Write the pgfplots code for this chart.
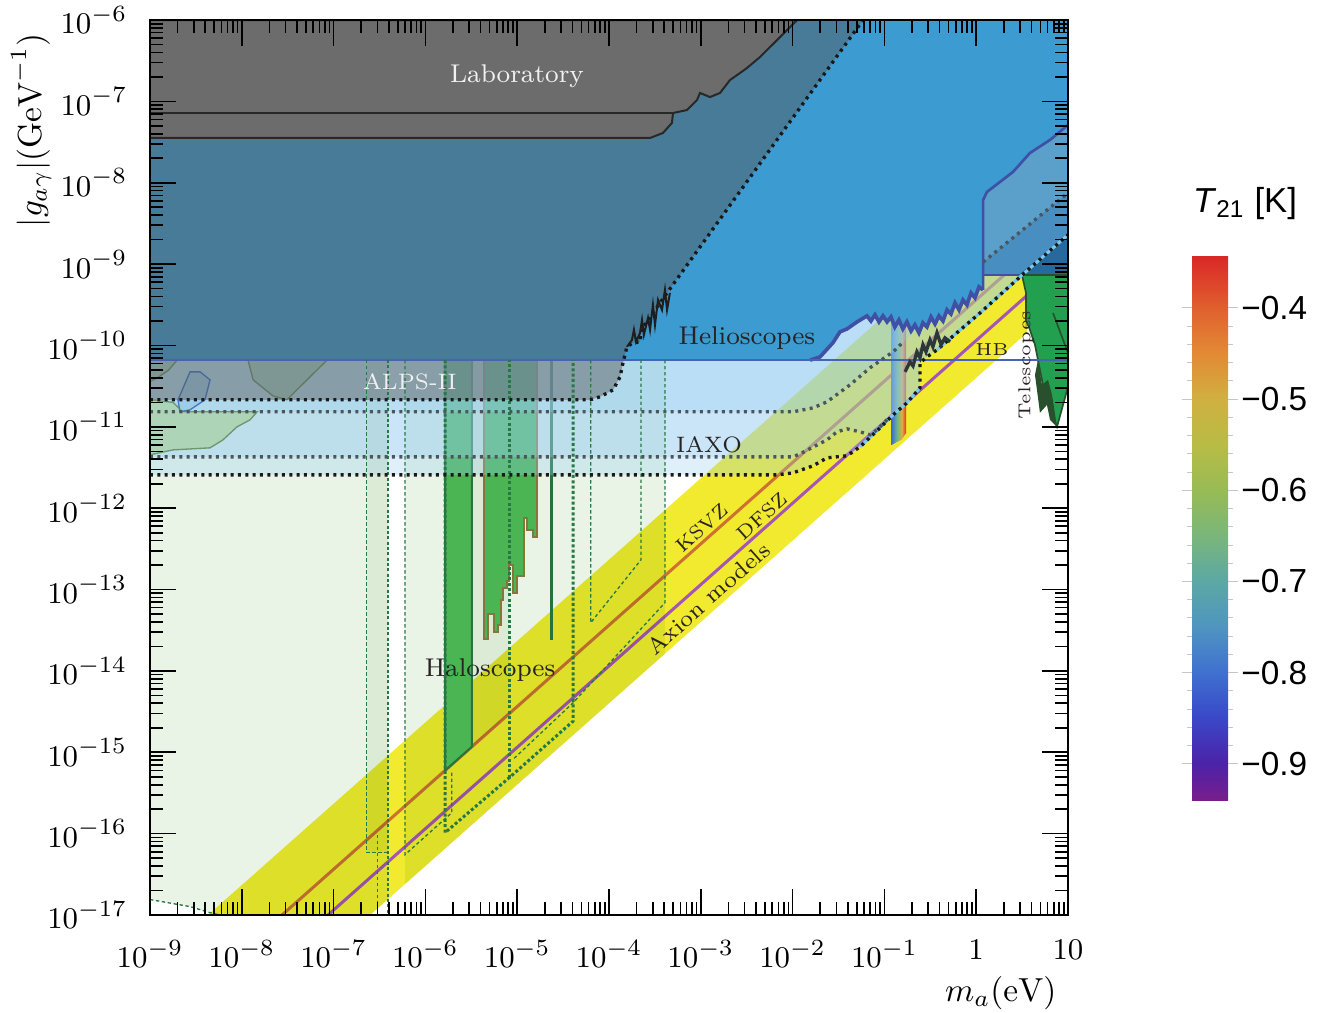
\documentclass[border=0pt]{standalone}
\usepackage{fontspec}
\usepackage{pgfplots}
\pgfplotsset{compat=1.18}
\newfontfamily\arial{Liberation Sans}

\definecolor{yband}{RGB}{242,234,46}
\definecolor{ksvz}{RGB}{205,112,50}
\definecolor{dfsz}{RGB}{165,85,180}
\definecolor{lgreen}{RGB}{233,244,231}
\definecolor{lgreen2}{RGB}{240,246,237}
\definecolor{bargreen}{RGB}{75,181,84}
\definecolor{bardark}{RGB}{40,115,60}
\definecolor{barolive}{RGB}{135,118,60}
\definecolor{iaxo}{RGB}{150,205,240}
\definecolor{iaxoline}{RGB}{120,200,240}
\definecolor{helio}{RGB}{60,155,208}
\definecolor{helioedge}{RGB}{64,80,165}
\definecolor{hbline}{RGB}{70,100,180}
\definecolor{rone}{RGB}{90,160,203}
\definecolor{rtwo}{RGB}{72,142,192}
\definecolor{rthree}{RGB}{38,105,156}
\definecolor{labgray}{RGB}{108,108,108}
\definecolor{labedge}{RGB}{40,40,40}
\definecolor{alpsgray}{RGB}{85,85,85}
\definecolor{telgreen}{RGB}{34,160,80}
\definecolor{teldark}{RGB}{40,80,45}
\definecolor{halo}{RGB}{40,120,70}
\definecolor{dotgray}{RGB}{75,85,92}
\definecolor{dotblack}{RGB}{25,25,25}
\definecolor{jag}{RGB}{30,30,30}
\definecolor{jagtwo}{RGB}{45,55,55}
\definecolor{txt}{RGB}{40,35,35}
\definecolor{wtxt}{RGB}{240,240,240}
\definecolor{blobg}{RGB}{170,210,170}
\definecolor{blobu}{RGB}{140,190,150}
\definecolor{blobedge}{RGB}{110,150,110}
\definecolor{blobb}{RGB}{150,200,230}
\definecolor{blobbedge}{RGB}{70,120,200}
\definecolor{sA}{RGB}{63,112,208}
\definecolor{sB}{RGB}{110,180,140}
\definecolor{sC}{RGB}{220,175,60}
\definecolor{sD}{RGB}{225,45,40}

\newcommand\lab{\fontsize{7.7}{9}\selectfont}
\newcommand\labs{\fontsize{6.7}{8}\selectfont}
\newcommand\labt{\fontsize{5.2}{6}\selectfont}

\pgfplotsset{
  dotB/.style={draw=dotblack, line width=1pt, dash pattern=on 0.9pt off 1.3pt},
  dotG/.style={draw=dotgray, line width=1pt, dash pattern=on 0.9pt off 1.3pt},
  halothin/.style={draw=halo, line width=0.4pt, dash pattern=on 1pt off 0.8pt},
  halothick/.style={draw=halo, line width=0.9pt, dash pattern=on 0.9pt off 0.7pt},
  colorbar shift/.style={xshift=37.2pt, yshift=34.5pt},
}

\begin{document}
\begin{tikzpicture}
\useasboundingbox (-45pt,-29.1pt) rectangle (353.7pt,274.5pt);
\begin{axis}[
  name=main,
  xmode=log, ymode=log,
  scale only axis, width=275.4pt, height=268.5pt,
  xmin=1e-9, xmax=10, ymin=1e-17, ymax=1e-6,
  xtick={1e-9,1e-8,1e-7,1e-6,1e-5,1e-4,1e-3,1e-2,1e-1,1,10},
  xticklabels={$10^{-9}$,$10^{-8}$,$10^{-7}$,$10^{-6}$,$10^{-5}$,$10^{-4}$,$10^{-3}$,$10^{-2}$,$10^{-1}$,$1$,$10$},
  ytick={1e-17,1e-16,1e-15,1e-14,1e-13,1e-12,1e-11,1e-10,1e-9,1e-8,1e-7,1e-6},
  major tick length=7.8pt, minor tick length=4pt,
  every tick/.style={black, line width=0.5pt},
  axis line style={line width=0.7pt},
  tick label style={font=\fontsize{9.3}{11}\selectfont},
  xticklabel style={yshift=-4pt},
  yticklabel style={xshift=-3.3pt},
  xlabel={$m_a(\mathrm{eV})$},
  xlabel style={at={(axis description cs:1,0)}, anchor=north east, yshift=-15pt, xshift=0pt},
  ylabel={$|g_{a\gamma}|(\mathrm{GeV}^{-1})$},
  ylabel style={at={(axis description cs:-0.164,0.998)}, anchor=north east},
  axis on top,
  colorbar,
  colormap={t21}{rgb255(0pt)=(120,30,140) rgb255(40pt)=(76,34,168) rgb255(90pt)=(58,72,200)
    rgb255(140pt)=(63,112,208) rgb255(190pt)=(79,149,192) rgb255(240pt)=(91,168,165)
    rgb255(290pt)=(122,182,122) rgb255(340pt)=(152,187,85) rgb255(390pt)=(184,188,69)
    rgb255(440pt)=(208,176,64) rgb255(490pt)=(227,138,53) rgb255(540pt)=(224,96,46)
    rgb255(598pt)=(217,38,38)},
  point meta min=-0.9396, point meta max=-0.342,
  colorbar style={
    at={(parent axis.south east)}, anchor=south west,
    scale only axis, width=10.8pt, height=163.5pt,
    ytick={-0.9,-0.8,-0.7,-0.6,-0.5,-0.4},
    yticklabels={−0.9,−0.8,−0.7,−0.6,−0.5,−0.4},
    minor y tick num=4,
    tick align=outside, major tick length=3pt, minor tick length=1.5pt,
    every tick/.style={gray!45, line width=0.3pt},
    axis line style={draw=none},
    yticklabel style={font=\arial\fontsize{10}{12}\selectfont, xshift=-2.5pt},
    title={\arial\fontsize{10.4}{12}\selectfont\textit{T}\textsubscript{21} [K]},
    title style={at={(0.5,1)}, anchor=south, yshift=1.2pt, xshift=10.5pt},
  },
]

% axion band and model lines
\addplot[fill=yband, draw=none] coordinates {(4.29e-9,1e-17) (3.57,8.32e-9) (3.57,1.43e-10) (2.5e-7,1e-17)} -- cycle;
\addplot[ksvz, line width=0.9pt] coordinates {(2.74e-8,1e-17) (3.57,1.30e-9)};
\addplot[dfsz, line width=0.9pt] coordinates {(8.69e-8,1e-17) (3.57,4.11e-10)};

% haloscope projections (light green)
\addplot[fill=lgreen, draw=none, blend mode=multiply] coordinates {(1e-9,1.55e-17) (2.73e-9,1.27e-17) (4.51e-9,1.07e-17) (5.79e-9,1e-17) (2.5e-7,1e-17) (3.95e-7,1.58e-17) (3.95e-7,1e-6) (1e-9,1e-6)} -- cycle;
\addplot[fill=lgreen, draw=none, blend mode=multiply] coordinates {(6.0e-7,2.4e-17) (4.07e-4,1.63e-14) (4.07e-4,1e-6) (6.0e-7,1e-6)} -- cycle;
\addplot[fill=lgreen2, draw=none, blend mode=multiply] coordinates {(2.30e-7,5.85e-17) (3.95e-7,5.85e-17) (3.95e-7,1e-6) (2.30e-7,1e-6)} -- cycle;
\addplot[fill=lgreen2, draw=none, blend mode=multiply] coordinates {(3.2e-6,1.17e-15) (8.2e-6,2.99e-15) (8.2e-6,1e-6) (3.2e-6,1e-6)} -- cycle;

% haloscope exclusions
\addplot[fill=bargreen, draw=bardark, line width=0.6pt] coordinates {(1.64e-6,6.6e-11) (3.20e-6,6.6e-11) (3.20e-6,1.17e-15) (1.64e-6,5.99e-16)} -- cycle;
\addplot[fill=bargreen, draw=barolive, line width=0.6pt] coordinates {
 (4.39e-6,6.6e-11) (4.39e-6,2.49e-14) (4.75e-6,2.49e-14) (4.75e-6,5.00e-14) (5.58e-6,5.00e-14)
 (5.58e-6,2.97e-14) (6.22e-6,2.97e-14) (6.22e-6,3.70e-14) (6.61e-6,3.70e-14) (6.61e-6,7.50e-14)
 (7.05e-6,7.50e-14) (7.05e-6,1.04e-13) (7.69e-6,1.04e-13) (7.69e-6,1.26e-13) (8.20e-6,1.26e-13)
 (8.20e-6,2.02e-13) (8.93e-6,2.02e-13) (8.93e-6,9.06e-14) (9.89e-6,9.06e-14) (9.89e-6,1.45e-13)
 (1.19e-5,1.45e-13) (1.19e-5,7.55e-13) (1.27e-5,7.55e-13) (1.27e-5,5.43e-13) (1.50e-5,5.43e-13)
 (1.50e-5,4.42e-13) (1.63e-5,4.42e-13) (1.63e-5,6.6e-11)} -- cycle;
\addplot[bardark, line width=0.9pt] coordinates {(2.38e-5,6.6e-11) (2.38e-5,2.42e-14)};

% 21 cm strip
\addplot[draw=none, left color=sA, right color=sB] coordinates {(0.120,6.0e-12) (0.120,2.06e-10) (0.137,2.06e-10) (0.137,6.5e-12)} -- cycle;
\addplot[draw=none, left color=sB, right color=sC] coordinates {(0.137,6.5e-12) (0.137,2.06e-10) (0.155,2.06e-10) (0.155,7.0e-12)} -- cycle;
\addplot[draw=none, left color=sC, right color=sD] coordinates {(0.155,7.0e-12) (0.155,2.06e-10) (0.172,2.06e-10) (0.172,8.4e-12)} -- cycle;

% IAXO type projections
\addplot[fill=iaxo, fill opacity=0.3, draw=none] coordinates {
 (1e-9,2.57e-12) (6.76e-3,2.57e-12) (1.01e-2,2.72e-12) (1.67e-2,3.32e-12) (2.37e-2,4.16e-12)
 (3.92e-2,4.41e-12) (5.42e-2,5.68e-12) (8.95e-2,9.72e-12) (0.124,1.40e-11) (0.176,1.97e-11)
 (0.244,3.01e-11) (0.244,6.11e-11) (0.291,7.24e-11) (0.374,8.83e-11) (1.10,2.51e-10)
 (3.00,6.97e-10) (10,2.29e-9) (10,1e-6) (1e-9,1e-6)} -- cycle;
\addplot[fill=iaxo, fill opacity=0.3, draw=none] coordinates {
 (1e-9,4.28e-12) (1.01e-2,4.28e-12) (1.21e-2,4.66e-12) (2.37e-2,6.92e-12) (3.05e-2,8.69e-12)
 (3.92e-2,9.45e-12) (5.42e-2,8.69e-12) (6.97e-2,7.98e-12) (8.30e-2,9.19e-12) (0.115,1.33e-11)
 (0.176,1.97e-11) (0.244,3.01e-11) (0.244,6.11e-11) (0.291,7.24e-11) (0.374,8.83e-11)
 (1.10,2.51e-10) (3.00,6.97e-10) (10,2.29e-9) (10,1e-6) (1e-9,1e-6)} -- cycle;
\addplot[fill=iaxo, fill opacity=0.3, draw=none] coordinates {
 (1e-9,1.53e-11) (1.01e-2,1.53e-11) (1.67e-2,1.71e-11) (2.37e-2,2.03e-11) (4.22e-2,3.28e-11)
 (6.97e-2,5.31e-11) (0.124,8.34e-11) (0.205,1.43e-10) (1.19,1.06e-9) (10,7.5e-9) (10,1e-6) (1e-9,1e-6)} -- cycle;

% small bounds at the far left
\addplot[fill=blobg, fill opacity=0.8, draw=blobedge, line width=0.4pt] coordinates {
 (1e-9,2.15e-11) (1.78e-9,2.0e-11) (2.29e-9,1.53e-11) (1.47e-8,1.53e-11) (1.23e-8,1.22e-11)
 (8.87e-9,1.0e-11) (6.24e-9,6.92e-12) (4.51e-9,5.52e-12) (1.78e-9,5.21e-12) (1e-9,4.53e-12)} -- cycle;
\addplot[fill=blobu, fill opacity=0.4, draw=blobedge, line width=0.4pt] coordinates {
 (1.17e-8,6.6e-11) (1.33e-8,3.78e-11) (2.19e-8,2.4e-11) (3.10e-8,2.15e-11) (5.13e-8,3.78e-11) (8.47e-8,6.6e-11)} -- cycle;
\addplot[fill=blobu, fill opacity=0.4, draw=blobedge, line width=0.4pt] coordinates {
 (1e-9,6.6e-11) (1.97e-9,6.6e-11) (1.6e-9,5.0e-11) (1.2e-9,4.0e-11) (1e-9,3.6e-11)} -- cycle;
\addplot[fill=blobb, fill opacity=0.7, draw=blobbedge, line width=0.4pt] coordinates {
 (2.73e-9,4.74e-11) (3.51e-9,4.74e-11) (4.51e-9,3.78e-11) (3.97e-9,2.15e-11) (2.73e-9,1.62e-11) (2.12e-9,1.53e-11) (2.02e-9,2.15e-11)} -- cycle;

% helioscopes (CAST)
\addplot[fill=helio, draw=none] coordinates {
 (1e-9,1e-6) (10,1e-6) (10,5.13e-8) (6.37,3.36e-8) (3.85,2.32e-8) (2.52,1.36e-8) (1.31,7.71e-9)
 (1.19,6.15e-9) (1.186,4.82e-10) (1.073,5.25e-10) (0.970,3.85e-10) (0.878,4.43e-10) (0.794,3.15e-10)
 (0.718,3.63e-10) (0.650,2.74e-10) (0.588,3.34e-10) (0.531,2.44e-10) (0.481,2.74e-10) (0.435,2.00e-10)
 (0.393,2.31e-10) (0.356,1.84e-10) (0.322,2.24e-10) (0.291,1.69e-10) (0.263,1.90e-10) (0.238,1.43e-10)
 (0.215,1.79e-10) (0.195,1.51e-10) (0.176,1.95e-10) (0.159,1.60e-10) (0.144,2.06e-10) (0.130,1.69e-10)
 (0.118,2.24e-10) (0.107,1.95e-10) (0.0965,2.31e-10) (0.0873,1.95e-10) (0.0790,2.38e-10) (0.0714,2.00e-10)
 (0.0646,2.31e-10) (5.04e-2,1.95e-10) (3.92e-2,1.60e-10) (3.28e-2,1.47e-10) (2.75e-2,1.08e-10)
 (1.99e-2,7.24e-11) (1.55e-2,6.65e-11) (8e-3,6.6e-11) (1e-9,6.6e-11)} -- cycle;
\addplot[helioedge, line width=1.1pt] coordinates {
 (1.186,4.82e-10) (1.073,5.25e-10) (0.970,3.85e-10) (0.878,4.43e-10) (0.794,3.15e-10)
 (0.718,3.63e-10) (0.650,2.74e-10) (0.588,3.34e-10) (0.531,2.44e-10) (0.481,2.74e-10) (0.435,2.00e-10)
 (0.393,2.31e-10) (0.356,1.84e-10) (0.322,2.24e-10) (0.291,1.69e-10) (0.263,1.90e-10) (0.238,1.43e-10)
 (0.215,1.79e-10) (0.195,1.51e-10) (0.176,1.95e-10) (0.159,1.60e-10) (0.144,2.06e-10) (0.130,1.69e-10)
 (0.118,2.24e-10) (0.107,1.95e-10) (0.0965,2.31e-10) (0.0873,1.95e-10) (0.0790,2.38e-10) (0.0714,2.00e-10)
 (0.0646,2.31e-10) (5.04e-2,1.95e-10) (3.92e-2,1.60e-10) (3.28e-2,1.47e-10) (2.75e-2,1.08e-10)
 (1.99e-2,7.24e-11) (1.55e-2,6.6e-11)};

% region right of 1 eV
\addplot[fill=rone, draw=none] coordinates {(1.19,6.15e-9) (1.31,7.71e-9) (2.52,1.36e-8) (3.85,2.32e-8) (6.37,3.36e-8) (10,5.13e-8) (10,7.36e-10) (1.19,7.36e-10)} -- cycle;
\addplot[fill=rtwo, draw=none] coordinates {(1.19,1.06e-9) (10,7.5e-9) (10,7.36e-10) (1.19,7.36e-10)} -- cycle;
\addplot[fill=rthree, draw=none] coordinates {(2.9,7.36e-10) (10,2.29e-9) (10,7.36e-10)} -- cycle;
\addplot[helioedge, line width=0.8pt] coordinates {(1.19,4.82e-10) (1.19,6.15e-9) (1.31,7.71e-9) (2.52,1.36e-8) (3.85,2.32e-8) (6.37,3.36e-8) (10,5.13e-8)};
\addplot[helioedge, line width=0.6pt] coordinates {(1.19,7.36e-10) (10,7.36e-10)};

% laboratory (ALPS-II projection, translucent)
\addplot[fill=alpsgray, fill opacity=0.45, draw=none] coordinates {
 (1e-9,2.15e-11) (6.21e-5,2.15e-11) (7.98e-5,2.34e-11) (1.11e-4,2.85e-11) (1.32e-4,4.11e-11)
 (1.42e-4,6.11e-11) (1.57e-4,9.62e-11) (1.82e-4,1.08e-10) (2.18e-4,1.11e-10) (2.29e-4,1.69e-10)
 (2.59e-4,1.90e-10) (3.01e-4,2.51e-10) (3.60e-4,3.34e-10) (4.29e-4,4.43e-10) (5.85e-2,1e-6) (1e-9,1e-6)} -- cycle;

% laboratory (opaque)
\addplot[fill=labgray, draw=labedge, line width=0.6pt] coordinates {
 (1e-9,1e-6) (1.12e-2,1e-6) (4.42e-3,3.51e-7) (3.18e-3,2.57e-7) (2.67e-3,2.23e-7) (2.08e-3,1.83e-7)
 (1.62e-3,1.27e-7) (1.26e-3,1.13e-7) (9.80e-4,1.27e-7) (9.10e-4,1.04e-7) (7.08e-4,7.83e-8)
 (4.98e-4,7.20e-8) (4.85e-4,5.43e-8) (3.87e-4,4.09e-8) (2.80e-4,3.55e-8) (1e-9,3.55e-8)} -- cycle;
\addplot[labedge, line width=0.6pt] coordinates {(1e-9,7.2e-8) (4.98e-4,7.2e-8)};

% telescopes
\addplot[fill=telgreen, draw=teldark, line width=0.5pt] coordinates {
 (3.15,7.36e-10) (10,7.36e-10) (10,3.10e-11) (7.59,1.0e-11) (6.37,1.62e-11) (5.61,2.47e-11)
 (4.95,5.01e-11) (4.37,1.02e-10) (3.85,1.56e-10) (3.49,2.06e-10) (3.49,4.43e-10)} -- cycle;
\addplot[fill=teldark, draw=none] coordinates {
 (4.37,4.35e-11) (4.95,1.49e-11) (5.90,1.86e-11) (6.37,1.22e-11) (7.59,1.0e-11) (6.70,2.47e-11)
 (6.06,3.78e-11) (5.21,3.28e-11) (4.71,6.65e-11)} -- cycle;
\addplot[teldark, line width=0.5pt] coordinates {(6.87,2.51e-10) (10,8.11e-11)};

% CAST / HB line
\addplot[hbline, line width=0.7pt] coordinates {(1e-9,6.6e-11) (10,6.6e-11)};

% haloscope projected outlines
\addplot[halothin] coordinates {(1e-9,1.55e-17) (2.73e-9,1.27e-17) (4.51e-9,1.07e-17) (5.79e-9,1e-17)};
\addplot[halothin] coordinates {(2.30e-7,6.6e-11) (2.30e-7,5.85e-17) (3.95e-7,5.85e-17)};
\addplot[halo, line width=0.6pt, dash pattern=on 0.9pt off 0.7pt] coordinates {(3.95e-7,6.6e-11) (3.95e-7,1e-17)};
\addplot[halothin] coordinates {(2.99e-7,9.72e-17) (2.99e-7,1e-17)};
\addplot[halothin] coordinates {(6.00e-7,6.6e-11) (6.00e-7,5.52e-17) (1.94e-6,1.81e-16) (1.94e-6,5.9e-16)};
\addplot[halothick] coordinates {(1.64e-6,6.6e-11) (1.64e-6,1.03e-16) (8.20e-6,4.88e-16) (4.06e-5,2.41e-15) (4.06e-5,6.6e-11)};
\addplot[halothick] coordinates {(8.20e-6,4.88e-16) (8.20e-6,6.6e-11)};
\addplot[halothin] coordinates {(6.32e-5,6.6e-11) (6.32e-5,3.91e-14) (2.23e-4,2.32e-13) (2.23e-4,6.6e-11)};
\addplot[halothin] coordinates {(4.07e-4,6.6e-11) (4.07e-4,6.89e-14) (4.06e-5,4.06e-15) (8.93e-6,8.11e-16)};

% dotted projection lines
\addplot[iaxoline, line width=0.9pt] coordinates {(5.42e-2,5.68e-12) (8.95e-2,9.72e-12) (0.124,1.40e-11) (0.176,1.97e-11) (0.244,3.01e-11)};
\addplot[iaxoline, line width=0.9pt] coordinates {(0.374,8.83e-11) (1.10,2.51e-10) (3.00,6.97e-10) (10,2.29e-9)};
\addplot[dotB] coordinates {
 (1e-9,2.57e-12) (6.76e-3,2.57e-12) (1.01e-2,2.72e-12) (1.67e-2,3.32e-12) (2.37e-2,4.16e-12)
 (3.92e-2,4.41e-12) (5.42e-2,5.68e-12) (8.95e-2,9.72e-12) (0.124,1.40e-11) (0.176,1.97e-11)
 (0.244,3.01e-11) (0.244,6.11e-11) (0.291,7.24e-11) (0.374,8.83e-11) (1.10,2.51e-10)
 (3.00,6.97e-10) (10,2.29e-9)};
\addplot[dotG] coordinates {
 (1e-9,4.28e-12) (1.01e-2,4.28e-12) (1.21e-2,4.66e-12) (2.37e-2,6.92e-12) (3.05e-2,8.69e-12)
 (3.92e-2,9.45e-12) (5.42e-2,8.69e-12) (6.97e-2,7.98e-12) (8.30e-2,9.19e-12) (0.115,1.33e-11)};
\addplot[dotG] coordinates {
 (1e-9,1.53e-11) (1.01e-2,1.53e-11) (1.67e-2,1.71e-11) (2.37e-2,2.03e-11) (4.22e-2,3.28e-11)
 (6.97e-2,5.31e-11) (0.124,8.34e-11) (0.16,1.1e-10)};
\addplot[dotG] coordinates {(1.19,1.06e-9) (10,7.5e-9)};
\addplot[dotB] coordinates {
 (1e-9,2.15e-11) (6.21e-5,2.15e-11) (7.98e-5,2.34e-11) (1.11e-4,2.85e-11) (1.32e-4,4.11e-11)
 (1.42e-4,6.11e-11) (1.57e-4,9.62e-11) (1.82e-4,1.08e-10) (2.18e-4,1.11e-10) (2.29e-4,1.69e-10)
 (2.59e-4,1.90e-10) (3.01e-4,2.51e-10) (3.60e-4,3.34e-10) (4.29e-4,4.43e-10) (5.85e-2,1e-6)};

% jagged projected sensitivities
\addplot[jag, line width=0.6pt] coordinates {
 (1.57e-4,9.62e-11) (1.78e-4,1.17e-10) (1.87e-4,1.56e-10) (1.97e-4,1.11e-10) (2.18e-4,1.43e-10)
 (2.29e-4,2.06e-10) (2.40e-4,1.35e-10) (2.66e-4,2.18e-10) (2.80e-4,1.56e-10) (3.01e-4,3.15e-10)
 (3.17e-4,1.79e-10) (3.42e-4,3.63e-10) (3.78e-4,2.74e-10) (4.07e-4,4.82e-10) (4.29e-4,2.74e-10) (4.61e-4,4.43e-10)};
\addplot[jagtwo, line width=1pt] coordinates {
 (0.168,4.74e-11) (0.190,6.29e-11) (0.205,5.61e-11) (0.226,8.34e-11) (0.244,7.05e-11)
 (0.263,1.02e-10) (0.284,8.34e-11) (0.314,1.17e-10) (0.338,9.62e-11) (0.374,1.43e-10)
 (0.414,1.02e-10) (0.457,1.24e-10) (0.519,1.11e-10)};

% labels
\node[text=wtxt, font=\lab] at (axis cs:9.96e-6,2.05e-7) {Laboratory};
\node[text=txt, font=\lab] at (axis cs:3.18e-3,1.24e-10) {Helioscopes};
\node[text=wtxt, font=\labs] at (axis cs:6.79e-7,3.57e-11) {ALPS-II};
\node[text=txt, font=\labs] at (axis cs:1.23e-3,6.01e-12) {IAXO};
\node[text=txt, font=\lab] at (axis cs:5.06e-6,1.03e-14) {Haloscopes};
\node[text=txt, font=\fontsize{5.8}{7}\selectfont, rotate=41.6, inner sep=0pt] at (axis cs:1.02e-3,5.69e-13) {KSVZ};
\node[text=txt, font=\fontsize{5.8}{7}\selectfont, rotate=41.6, inner sep=0pt] at (axis cs:4.60e-3,7.91e-13) {DFSZ};
\node[text=txt, font=\fontsize{6.9}{8}\selectfont, rotate=41.6, inner sep=0pt] at (axis cs:1.21e-3,7.86e-14) {Axion models};
\node[text=txt, font=\labt] at (axis cs:1.49,8.83e-11) {HB};
\node[text=txt, font=\labt, rotate=90] at (axis cs:3.49,5.78e-11) {Telescopes};
\end{axis}
\end{tikzpicture}
\end{document}
